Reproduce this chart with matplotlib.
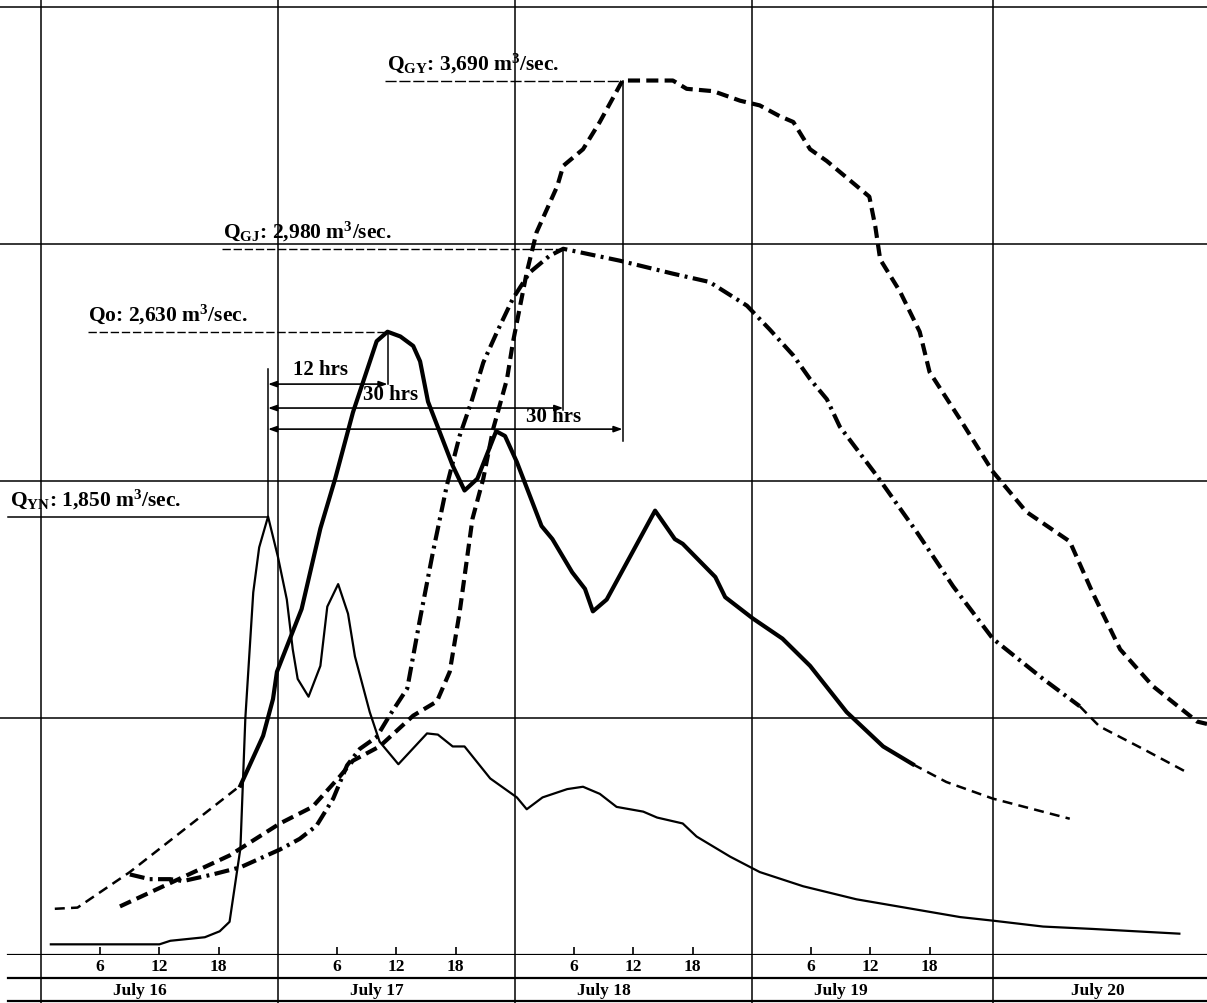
import numpy as np
import matplotlib.pyplot as plt

# time axis: hours counted from July 16, 00:00; flows in m3/sec
yn_hours = [1.0, 12.0, 13.1, 16.6, 18.1, 19.1, 20.2, 20.7, 21.5, 22.1, 23.0, 24.0, 24.9,
            25.5, 26.0, 27.1, 28.3, 29.0, 30.1, 31.1, 31.8, 33.3, 34.3, 36.2, 39.1, 40.2,
            41.7, 42.9, 45.5, 48.2, 49.2, 50.8, 53.3, 54.9, 56.6, 58.3, 61.0, 62.4, 65.0,
            66.4, 69.8, 72.8, 77.2, 82.6, 93.1, 96.4, 101.5, 106.5, 115.3]
yn_flow = [45, 45, 60, 75, 100, 140, 450, 1000, 1530, 1720, 1850, 1680, 1500,
           1290, 1165, 1090, 1220, 1470, 1565, 1440, 1260, 1025, 900, 805, 935, 930,
           880, 880, 745, 665, 615, 665, 700, 710, 680, 625, 605, 580, 555,
           500, 415, 350, 290, 235, 160, 145, 120, 110, 90]

o_est_hours = [1.4, 3.7, 9.0, 20.2]
o_est_flow = [195, 200, 350, 715]
o_hours = [20.2, 22.5, 23.5, 23.9, 26.4, 28.3, 29.8, 31.6, 34.0, 35.1, 36.4, 37.7, 38.4,
           39.2, 41.7, 42.9, 44.2, 46.1, 47.0, 48.2, 50.7, 51.8, 53.8, 55.1, 55.9, 57.3,
           62.2, 64.2, 65.0, 68.3, 69.3, 72.1, 75.1, 77.9, 81.6, 85.3, 88.3]
o_flow = [715, 925, 1080, 1195, 1460, 1800, 2010, 2290, 2590, 2630, 2610, 2570, 2505,
          2335, 2065, 1960, 2010, 2210, 2190, 2080, 1810, 1755, 1615, 1545, 1450, 1500,
          1875, 1755, 1735, 1595, 1510, 1420, 1335, 1220, 1025, 880, 805]
o_tail_hours = [88.3, 91.7, 96.4, 104.2]
o_tail_flow = [805, 730, 660, 575]

gj_hours = [9.0, 11.0, 13.1, 14.4, 17.4, 20.2, 24.2, 26.2, 27.9, 29.6, 31.0, 32.3, 34.0,
            35.3, 37.1, 38.4, 39.7, 41.1, 42.4, 43.6, 44.8, 46.2, 47.8, 49.5, 51.5, 52.9,
            58.6, 64.0, 67.7, 71.5, 73.8, 76.2, 77.9, 79.6, 80.9, 84.7, 88.7, 92.4, 96.4,
            101.5, 105.2]
gj_flow = [340, 320, 320, 312, 340, 370, 445, 490, 545, 660, 800, 870, 920,
           1010, 1125, 1420, 1700, 1980, 2190, 2335, 2500, 2630, 2770, 2880, 2950, 2980,
           2930, 2875, 2840, 2740, 2640, 2530, 2430, 2345, 2230, 2020, 1785, 1555, 1335,
           1165, 1050]
gj_tail_hours = [105.2, 107.2, 111.6, 116.1]
gj_tail_flow = [1050, 965, 870, 770]

gy_hours = [8.0, 19.1, 24.2, 27.5, 30.3, 31.6, 34.3, 37.7, 40.1, 41.4, 42.4, 43.7, 44.8,
            45.8, 47.2, 47.8, 49.2, 50.2, 52.3, 52.9, 54.9, 56.6, 58.9, 64.0, 65.4, 68.1,
            70.8, 72.8, 74.8, 76.2, 77.9, 79.6, 82.9, 83.9, 84.5, 85.0, 87.0, 89.0, 90.0,
            93.1, 96.4, 99.8, 104.2, 106.5, 109.3, 112.6, 117.1, 118.1]
gy_flow = [205, 420, 555, 625, 755, 820, 880, 1010, 1070, 1195, 1445, 1840, 2010,
           2220, 2430, 2585, 2880, 3050, 3245, 3330, 3400, 3515, 3690, 3690, 3655, 3645,
           3605, 3585, 3540, 3515, 3400, 3350, 3235, 3200, 3075, 2935, 2800, 2630, 2460,
           2260, 2040, 1870, 1745, 1530, 1290, 1135, 985, 975]

day_starts = [0, 24, 48, 72, 96.4]
day_names = ['July 16', 'July 17', 'July 18', 'July 19', 'July 20']
day_label_pos = [10, 34, 57, 81, 107]
hour_ticks = [6, 12, 18, 30, 36, 42, 54, 60, 66, 78, 84, 90]
hour_labels = ['6', '12', '18'] * 4
grid_flows = [1000, 2000, 3000, 4000]

plt.rcParams['font.family'] = ['Liberation Serif', 'DejaVu Serif']
plt.rcParams['font.weight'] = 'bold'
plt.rcParams['mathtext.fontset'] = 'custom'
plt.rcParams['mathtext.rm'] = 'Liberation Serif:bold'
plt.rcParams['mathtext.it'] = 'Liberation Serif:bold'
plt.rcParams['mathtext.bf'] = 'Liberation Serif:bold'

XLIM = (-4.15, 118.1)
fig = plt.figure(figsize=(12.07, 10.04), dpi=100)
ax = fig.add_axes([0, 48 / 1004, 1, 956 / 1004])
ax.set_xlim(*XLIM)
ax.set_ylim(0, 4034)
for s in ax.spines.values():
    s.set_visible(False)
ax.set_yticks([])

# frame / grid
x0 = 8 / 1207
ax.axhline(0, xmin=x0, color='k', lw=1.6)
for q in grid_flows:
    ax.axhline(q, color='k', lw=1.1)
for d in day_starts:
    ax.axvline(d, color='k', lw=1.1)

ax.set_xticks(hour_ticks)
ax.set_xticklabels(hour_labels, fontsize=12.5, fontweight='bold')
ax.tick_params(axis='x', direction='in', length=6, width=1.2, pad=2.5)

# hydrographs
ax.plot(yn_hours, yn_flow, color='k', lw=1.6)
ax.plot(o_est_hours, o_est_flow, color='k', lw=1.8, dashes=(4, 2.5))
ax.plot(o_hours, o_flow, color='k', lw=3.0, solid_joinstyle='round')
ax.plot(o_tail_hours, o_tail_flow, color='k', lw=1.8, dashes=(4, 2.5))
ax.plot(gj_hours, gj_flow, color='k', lw=3.0, dashes=(3.6, 1.3, 0.7, 1.3))
ax.plot(gj_tail_hours, gj_tail_flow, color='k', lw=1.8, dashes=(4, 2.5))
ax.plot(gy_hours, gy_flow, color='k', lw=3.0, dashes=(2.9, 1.5))

# peaks
def peak(h, q):
    i = int(np.argmax(q))
    return h[i], q[i]

t_yn, p_yn = peak(yn_hours, yn_flow)
t_o, p_o = peak(o_hours, o_flow)
t_gj, p_gj = peak(gj_hours, gj_flow)
t_gy, p_gy = peak(gy_hours, gy_flow)

lab = dict(fontsize=15.5, fontweight='bold', ha='left', va='bottom')
ax.text(-3.1, p_yn + 25, r'Q$_{\mathrm{YN}}$: 1,850 m$^3$/sec.', **lab)
ax.text(4.8, p_o + 25, r'Qo: 2,630 m$^3$/sec.', **lab)
ax.text(18.4, p_gj + 25, r'Q$_{\mathrm{GJ}}$: 2,980 m$^3$/sec.', **lab)
ax.text(35.0, p_gy + 25, r'Q$_{\mathrm{GY}}$: 3,690 m$^3$/sec.', **lab)

ax.plot([-3.3, t_yn], [p_yn, p_yn], color='k', lw=1.1)
ax.plot([4.8, t_o], [p_o, p_o], color='k', lw=1.0, dashes=(6, 2))
ax.plot([18.3, t_gj], [p_gj, p_gj], color='k', lw=1.0, dashes=(6, 2))
ax.plot([34.8, t_gy], [p_gy, p_gy], color='k', lw=1.0, dashes=(8, 2))

# lag arrows
a1, a2, a3 = 2409, 2308, 2219
ax.plot([t_yn, t_yn], [p_yn, 2473], color='k', lw=1.1)
ax.plot([t_o, t_o], [p_o, a1], color='k', lw=1.1)
ax.plot([t_gj, t_gj], [p_gj, a2 - 10], color='k', lw=1.1)
ax.plot([t_gy, t_gy], [p_gy, a3 - 50], color='k', lw=1.1)
arr = dict(arrowstyle='<|-|>,head_length=0.5,head_width=0.18', color='k', lw=1.2,
           shrinkA=0, shrinkB=0)
for t_end, lvl in [(t_o, a1), (t_gj, a2), (t_gy, a3)]:
    ax.annotate('', xy=(t_end, lvl), xytext=(t_yn, lvl), arrowprops=arr)
ax.text(28.3, a1 + 20, '12 hrs', fontsize=15, fontweight='bold', ha='center', va='bottom')
ax.text(32.6, a2 + 15, '30 hrs', fontsize=15, fontweight='bold', ha='left', va='bottom')
ax.text(49.1, a3 + 15, '30 hrs', fontsize=15, fontweight='bold', ha='left', va='bottom')

# date strip
strip = fig.add_axes([0, 0, 1, 48 / 1004])
strip.set_xlim(*XLIM)
strip.set_ylim(0, 1)
strip.axis('off')
strip.axhline(0.52, xmin=x0, color='k', lw=1.6)
strip.axhline(0.04, xmin=x0, color='k', lw=1.6)
for d in day_starts:
    strip.axvline(d, color='k', lw=1.1)
for name, pos in zip(day_names, day_label_pos):
    strip.text(pos, 0.27, name, fontsize=12.5, fontweight='bold', ha='center', va='center')

fig.savefig('out.png', dpi=100)
